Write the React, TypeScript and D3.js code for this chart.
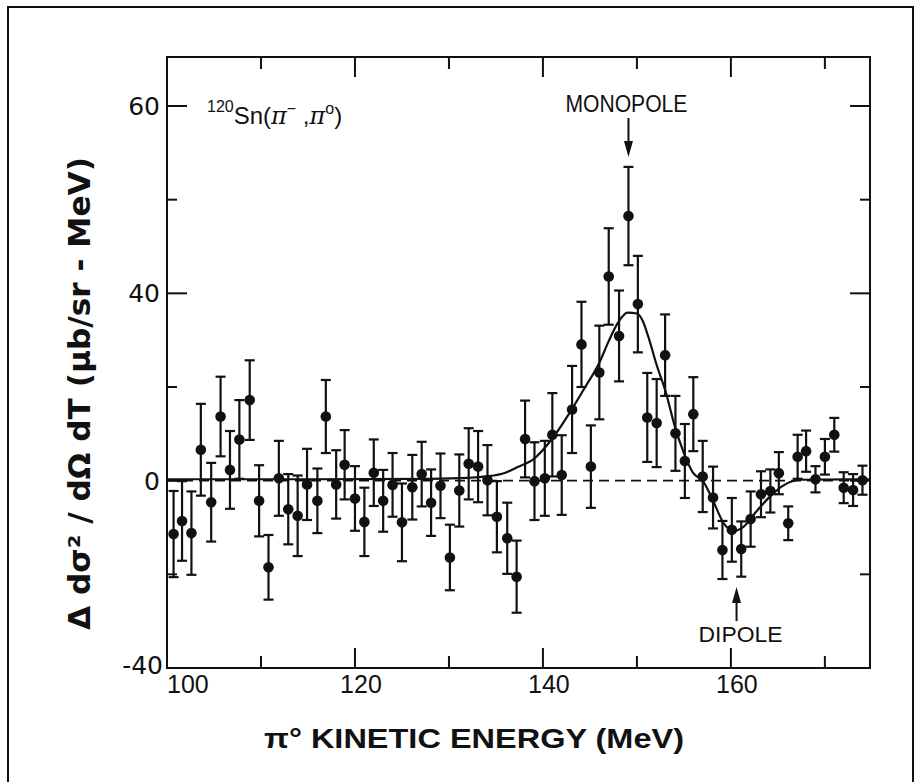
import React, { useEffect, useRef } from 'react';
import * as d3 from 'd3';

// pi0 kinetic energy (MeV) of each measured point
const energy = [
  100.7, 101.6, 102.6, 103.6, 104.7, 105.7, 106.7, 107.7, 108.8, 109.8,
  110.8, 111.9, 112.9, 113.9, 114.9, 116.0, 116.9, 118.0, 118.9, 120.0,
  121.0, 122.0, 123.0, 124.0, 125.0, 126.1, 127.1, 128.1, 129.1, 130.1,
  131.1, 132.1, 133.1, 134.1, 135.1, 136.2, 137.2, 138.1, 139.1, 140.2,
  141.0, 142.0, 143.1, 144.1, 145.1, 146.0, 147.0, 148.1, 149.1, 150.1,
  151.1, 152.1, 153.0, 154.1, 155.1, 156.0, 157.0, 158.1, 159.1, 160.1,
  161.1, 162.1, 163.2, 164.2, 165.1, 166.1, 167.1, 168.0, 169.0, 170.0,
  171.0, 172.0, 173.0, 174.0,
];

// difference cross section (ub/sr-MeV)
const xsec = [
  -11.4, -8.6, -11.2, 6.6, -4.6, 13.7, 2.3, 8.8, 17.2, -4.3,
  -18.5, 0.5, -6.1, -7.5, -0.8, -4.3, 13.7, -0.8, 3.4, -3.8,
  -8.8, 1.7, -4.3, -0.9, -8.9, -1.4, 1.4, -4.7, -1.1, -16.4,
  -2.1, 3.6, 3.0, 0.1, -7.7, -12.3, -20.5, 8.9, -0.1, 0.5,
  9.8, 1.2, 15.2, 29.1, 3.0, 23.1, 43.6, 30.9, 56.5, 37.7,
  13.5, 12.3, 26.8, 10.1, 4.2, 14.2, 0.9, -3.6, -14.8, -10.5,
  -14.6, -8.2, -2.9, -2.2, 1.6, -9.1, 5.1, 6.3, 0.3, 5.1,
  9.8, -1.5, -2.0, 0.1,
];

// statistical error (half length of the bar)
const xsecErr = [
  9.2, 8.5, 8.9, 9.8, 8.4, 8.5, 8.3, 8.4, 8.5, 7.6,
  6.9, 8.0, 7.5, 8.6, 7.6, 6.9, 7.8, 7.3, 7.4, 6.9,
  7.3, 7.1, 6.6, 6.8, 8.3, 6.9, 6.9, 7.1, 6.9, 7.0,
  7.7, 7.6, 7.6, 7.5, 7.6, 7.6, 7.7, 8.2, 8.3, 8.0,
  8.9, 8.5, 9.3, 9.1, 8.8, 10.0, 10.3, 9.7, 10.5, 10.3,
  9.5, 9.4, 8.7, 8.0, 7.9, 7.9, 7.6, 6.6, 6.2, 6.8,
  5.9, 5.9, 4.9, 4.6, 4.5, 3.6, 4.7, 4.4, 2.8, 3.8,
  3.6, 3.3, 3.4, 3.1,
];

// fitted curve (monopole + dipole)
const fitEnergy = [
  100, 115, 128, 132, 134, 136, 137.3, 139, 141, 143, 144.5, 146, 147, 148,
  149, 150, 150.6, 151.2, 152.1, 153.1, 154, 155, 156, 157, 158, 159.2,
  160.3, 161.3, 162.7, 164.2, 165.6, 167.4, 174.8,
];
const fitXsec = [
  0.3, 0.3, 0.4, 0.6, 0.9, 1.7, 2.9, 4.6, 9.0, 15.0, 20.0, 25.2, 29.8, 33.8,
  35.9, 35.7, 34.2, 30.8, 24.7, 18.7, 11.8, 5.9, 1.6, 0.0, -3.8, -9.0,
  -10.7, -9.9, -6.6, -3.3, -1.0, 0.2, 0.3,
];

const xMajorTicks = [100, 120, 140, 160];
const xMinorTicks = [110, 130, 150, 170];
const xTickLabels = ['100', '120', '140', '160'];
const yMajorTicks = [80, 40, 0, -40];
const yMinorTicks = [60, 20, -20];
const yTickLabels = ['60', '40', '0', '-40'];

const App = () => {
  const svgRef = useRef<SVGSVGElement>(null);
  const width = 920;
  const height = 782;

  useEffect(() => {
    const svg = d3.select(svgRef.current);
    svg.selectAll('*').remove();

    const x = d3.scaleLinear().domain([100, 174.8]).range([167, 870]);
    const y = d3.scaleLinear().domain([-40, 80]).range([668, 106]);
    const top = 57;
    const bottom = y(-40);
    const ink = '#111';

    // page border
    svg.append('path')
      .attr('d', `M8,${height} V7 H913 V${height}`)
      .attr('fill', 'none')
      .attr('stroke', ink)
      .attr('stroke-width', 2);

    // plot frame
    svg.append('rect')
      .attr('x', x(100))
      .attr('y', top)
      .attr('width', x(174.8) - x(100))
      .attr('height', bottom - top)
      .attr('fill', 'none')
      .attr('stroke', ink)
      .attr('stroke-width', 2);

    // x ticks, bottom and top, pointing inwards
    const xt = svg.append('g').attr('stroke', ink).attr('stroke-width', 2);
    xMajorTicks.concat(xMinorTicks).forEach(v => {
      const len = xMajorTicks.includes(v) ? 20 : 12;
      xt.append('line').attr('x1', x(v)).attr('x2', x(v)).attr('y1', bottom).attr('y2', bottom - len);
      xt.append('line').attr('x1', x(v)).attr('x2', x(v)).attr('y1', top).attr('y2', top + len);
    });

    // y ticks, left and right
    yMajorTicks.concat(yMinorTicks).forEach(v => {
      const len = yMajorTicks.includes(v) ? 20 : 10;
      xt.append('line').attr('x1', x(100)).attr('x2', x(100) + len).attr('y1', y(v)).attr('y2', y(v));
      xt.append('line').attr('x1', x(174.8)).attr('x2', x(174.8) - len).attr('y1', y(v)).attr('y2', y(v));
    });

    // tick labels
    svg.append('g')
      .selectAll('text')
      .data(xMajorTicks)
      .enter().append('text')
      .attr('x', (d, i) => (i === 0 ? x(d) : x(d) + 6))
      .attr('y', 693)
      .attr('text-anchor', (d, i) => (i === 0 ? 'start' : 'middle'))
      .attr('font-family', 'Liberation Sans, Arial, sans-serif')
      .attr('font-size', 25)
      .attr('fill', ink)
      .text((d, i) => xTickLabels[i]);

    svg.append('g')
      .selectAll('text')
      .data(yMajorTicks)
      .enter().append('text')
      .attr('x', (d, i) => (i === 3 ? 163 : 160))
      .attr('y', (d, i) => (i === 3 ? y(d) + 6 : y(d) + 9))
      .attr('text-anchor', 'end')
      .attr('font-family', 'DejaVu Sans, sans-serif')
      .attr('font-size', 25)
      .attr('fill', ink)
      .text((d, i) => yTickLabels[i]);

    // zero line
    svg.append('line')
      .attr('x1', x(100)).attr('x2', x(174.8))
      .attr('y1', y(0)).attr('y2', y(0))
      .attr('stroke', ink)
      .attr('stroke-width', 1.6)
      .attr('stroke-dasharray', '10,6');

    // fitted curve
    const line = d3.line<number>()
      .x((d, i) => x(fitEnergy[i]))
      .y(d => y(d))
      .curve(d3.curveMonotoneX);
    svg.append('path')
      .attr('d', line(fitXsec))
      .attr('fill', 'none')
      .attr('stroke', ink)
      .attr('stroke-width', 2.2);

    // error bars
    const pts = energy.map((e, i) => ({ e, v: xsec[i], err: xsecErr[i] }));
    const bars = svg.append('g').attr('stroke', ink).attr('stroke-width', 2.2);
    pts.forEach(p => {
      const cx = x(p.e);
      const y1 = y(p.v + p.err);
      const y2 = y(p.v - p.err);
      bars.append('line').attr('x1', cx).attr('x2', cx).attr('y1', y1).attr('y2', y2);
      bars.append('line').attr('x1', cx - 5).attr('x2', cx + 5).attr('y1', y1).attr('y2', y1);
      bars.append('line').attr('x1', cx - 5).attr('x2', cx + 5).attr('y1', y2).attr('y2', y2);
    });

    // data points
    svg.append('g')
      .selectAll('circle')
      .data(pts)
      .enter().append('circle')
      .attr('cx', d => x(d.e))
      .attr('cy', d => y(d.v))
      .attr('r', 5.3)
      .attr('fill', ink);

    // annotations
    const label = (txt: string, cx: number, by: number, len: number, size: number) =>
      svg.append('text')
        .attr('x', cx)
        .attr('y', by)
        .attr('text-anchor', 'middle')
        .attr('font-family', 'Liberation Sans, Arial, sans-serif')
        .attr('font-size', size)
        .attr('textLength', len)
        .attr('lengthAdjust', 'spacingAndGlyphs')
        .attr('fill', ink)
        .text(txt);

    const arrow = (cx: number, tail: number, tip: number) => {
      const dir = tip > tail ? 1 : -1;
      svg.append('line')
        .attr('x1', cx).attr('x2', cx)
        .attr('y1', tail).attr('y2', tip - dir * 10)
        .attr('stroke', ink).attr('stroke-width', 2);
      svg.append('path')
        .attr('d', `M${cx},${tip} L${cx - 4.5},${tip - dir * 16} L${cx + 4.5},${tip - dir * 16} Z`)
        .attr('fill', ink);
    };

    const monoX = x(149.1);
    label('MONOPOLE', monoX - 2, 112, 122, 23);
    arrow(monoX, 118, 157);

    const diX = x(160.6);
    label('DIPOLE', diX + 4, 642, 84, 22);
    arrow(diX, 621, 587);

    // reaction label
    const react = svg.append('text')
      .attr('x', 207)
      .attr('y', 124)
      .attr('font-family', 'Liberation Sans, Arial, sans-serif')
      .attr('fill', ink)
      .attr('font-size', 24);
    react.append('tspan').attr('font-size', 16).attr('dy', -12).text('120');
    react.append('tspan').attr('dy', 12).text('Sn(');
    react.append('tspan').attr('font-family', 'DejaVu Serif, serif').attr('font-style', 'italic').text('π');
    react.append('tspan').attr('font-size', 16).attr('dy', -10).text('−');
    react.append('tspan').attr('dy', 10).text(' ,');
    react.append('tspan').attr('font-family', 'DejaVu Serif, serif').attr('font-style', 'italic').text('π');
    react.append('tspan').attr('font-size', 16).attr('dy', -10).text('o');
    react.append('tspan').attr('dy', 10).text(')');

    // axis titles
    svg.append('text')
      .attr('x', 264)
      .attr('y', 748)
      .attr('font-family', 'Liberation Sans, Arial, sans-serif')
      .attr('font-weight', 'bold')
      .attr('font-size', 28)
      .attr('textLength', 420)
      .attr('lengthAdjust', 'spacingAndGlyphs')
      .attr('fill', ink)
      .text('π° KINETIC ENERGY (MeV)');

    svg.append('text')
      .attr('transform', 'translate(90,630) rotate(-90)')
      .attr('font-family', 'DejaVu Sans, sans-serif')
      .attr('font-weight', 'bold')
      .attr('font-size', 30)
      .attr('textLength', 473)
      .attr('lengthAdjust', 'spacingAndGlyphs')
      .attr('fill', ink)
      .text('Δ  dσ² / dΩ dT  (μb/sr - MeV)');
  }, []);

  return (
    <svg
      ref={svgRef}
      width={width}
      height={height}
      style={{ position: 'absolute', left: 0, top: 0, background: '#fff' }}
    ></svg>
  );
};

export default App;
